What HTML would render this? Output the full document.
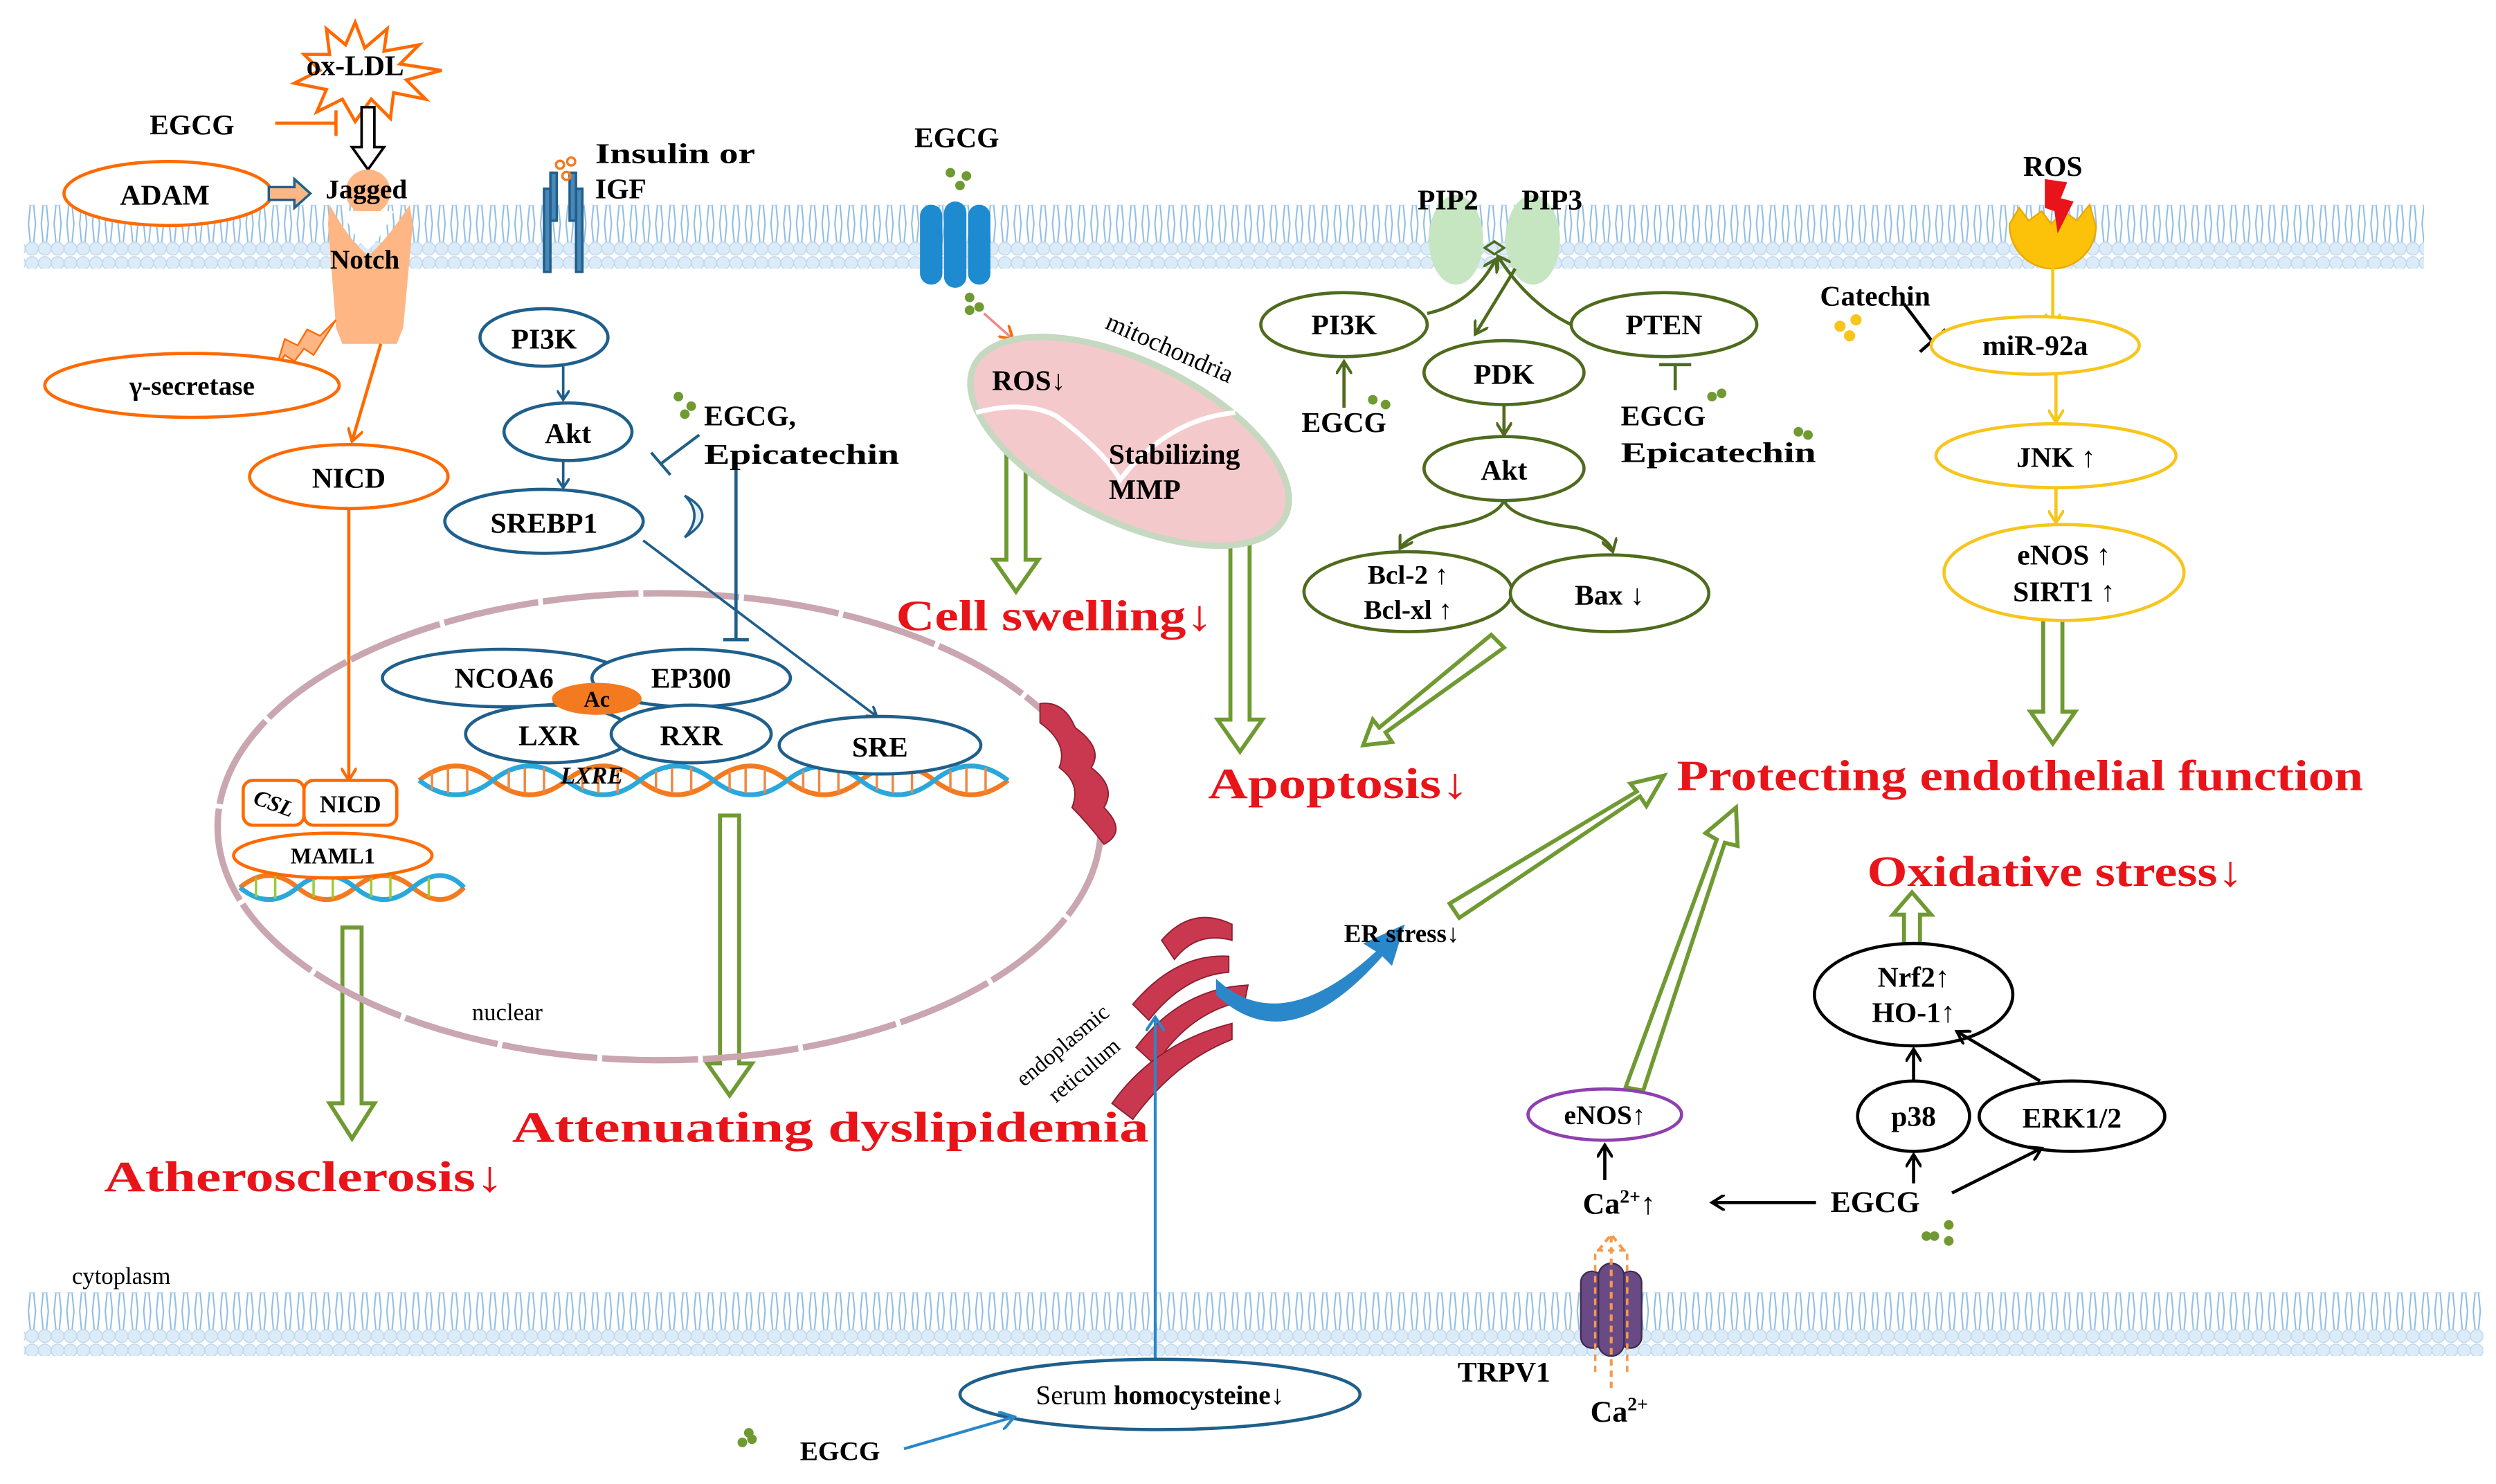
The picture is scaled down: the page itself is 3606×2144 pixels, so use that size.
<!DOCTYPE html>
<html><head><meta charset="utf-8"><style>
html,body{margin:0;padding:0;background:#fff}
svg{display:block}
text{font-family:"Liberation Serif",serif;font-weight:bold;fill:#000}
</style></head><body>
<svg width="3606" height="2144" viewBox="0 0 1560 928" preserveAspectRatio="none" xmlns="http://www.w3.org/2000/svg">
<defs>
<pattern id="mem" x="0" y="0" width="8" height="40" patternUnits="userSpaceOnUse">
<path d="M3 8 L1.8 20 L3 32 M5 8 L6.2 20 L5 32" stroke="#8fbde3" stroke-width="0.9" fill="none"/>
<circle cx="4" cy="4.5" r="4" fill="#dcebf8" stroke="#bcd6ee" stroke-width="0.6"/>
<circle cx="4" cy="35.5" r="4" fill="#dcebf8" stroke="#bcd6ee" stroke-width="0.6"/>
</pattern>
<marker id="ab" markerWidth="8" markerHeight="8" refX="6" refY="4" orient="auto" markerUnits="userSpaceOnUse"><path d="M0,0 L6,4 L0,8" fill="none" stroke="#1f5f8b" stroke-width="1.6"/></marker>
<marker id="ao" markerWidth="10" markerHeight="10" refX="8" refY="5" orient="auto" markerUnits="userSpaceOnUse"><path d="M0,0 L8,5 L0,10" fill="none" stroke="#ff6a00" stroke-width="1.8"/></marker>
<marker id="ag" markerWidth="10" markerHeight="10" refX="8" refY="5" orient="auto" markerUnits="userSpaceOnUse"><path d="M0,0 L8,5 L0,10" fill="none" stroke="#4f6b1e" stroke-width="1.8"/></marker>
<marker id="ay" markerWidth="10" markerHeight="10" refX="8" refY="5" orient="auto" markerUnits="userSpaceOnUse"><path d="M0,0 L8,5 L0,10" fill="none" stroke="#f7c51b" stroke-width="1.8"/></marker>
<marker id="ak" markerWidth="10" markerHeight="10" refX="8" refY="5" orient="auto" markerUnits="userSpaceOnUse"><path d="M0,0 L8,5 L0,10" fill="none" stroke="#000" stroke-width="1.8"/></marker>
<marker id="ab2" markerWidth="12" markerHeight="12" refX="9" refY="6" orient="auto" markerUnits="userSpaceOnUse"><path d="M0,0 L9,6 L0,12" fill="none" stroke="#2a87c9" stroke-width="1.8"/></marker>
</defs>

<rect x="15" y="128" width="1500" height="40" fill="url(#mem)"/>
<rect x="15" y="808" width="1537" height="40" fill="url(#mem)"/>

<polygon points="214,580 226,580 226,690 234,690 220,712 206,690 214,690" fill="#fff" stroke="#6f9a32" stroke-width="2.5"/>
<polygon points="450,510 462,510 462,665 470,665 456,685 442,665 450,665" fill="#fff" stroke="#6f9a32" stroke-width="2.5"/>
<polygon points="629,255 641,255 641,350 649,350 635,370 621,350 629,350" fill="#fff" stroke="#6f9a32" stroke-width="2.5"/>
<polygon points="769,300 781,300 781,450 789,450 775,470 761,450 769,450" fill="#fff" stroke="#6f9a32" stroke-width="2.5"/>
<polygon points="1277,385 1289,385 1289,445 1297,445 1283,465 1269,445 1277,445" fill="#fff" stroke="#6f9a32" stroke-width="2.5"/>
<polygon points="1190,592 1200,592 1200,572 1207,572 1195,558 1183,572 1190,572" fill="#fff" stroke="#6f9a32" stroke-width="2.5"/>
<polygon points="932,397 940,405 866,458 870,464 852,466 858,450 862,455" fill="#fff" stroke="#6f9a32" stroke-width="2.5"/>
<polygon points="906,565 912,574 1025,498 1029,504 1040,485 1019,490 1023,495" fill="#fff" stroke="#6f9a32" stroke-width="2.5"/>
<polygon points="1016,680 1027,682 1078,527 1086,529 1085,505 1066,521 1073,525" fill="#fff" stroke="#6f9a32" stroke-width="2.5"/>

<polygon points="222,14 228,30 242,18 240,32 262,28 250,40 276,44 254,50 266,62 246,58 244,74 232,62 222,76 214,62 198,70 204,56 184,52 200,44 190,34 206,34 204,18 216,28" fill="#fff" stroke="#ff6a00" stroke-width="2"/>
<text x="222" y="47" font-size="18" text-anchor="middle">ox-LDL</text>
<text x="120" y="84" font-size="18" text-anchor="middle">EGCG</text>
<path d="M172 77 L210 77 M210 69 L210 85" stroke="#ff6a00" stroke-width="2"/>
<polygon points="226,67 234,67 234,92 240,92 230,106 220,92 226,92" fill="#fff" stroke="#000" stroke-width="1.6"/>
<circle cx="230" cy="120" r="14" fill="#fdb684"/>
<path d="M206 128 Q218 150 230 160 Q242 150 256 128 L258 140 L252 205 L248 215 L214 215 L210 205 L205 140 Z" fill="#fdb684"/>
<path d="M214 132 Q222 150 230 156 Q238 150 246 132" fill="#fff"/>
<ellipse cx="105" cy="121" rx="65" ry="20" fill="#fff" stroke="#ff6a00" stroke-width="2"/>
<text x="103" y="128" font-size="18" text-anchor="middle">ADAM</text>
<polygon points="168,117 184,117 184,112 194,121 184,130 184,125 168,125" fill="#fdb684" stroke="#1f5f8b" stroke-width="1.5"/>
<text x="229" y="124" font-size="17" text-anchor="middle">Jagged</text>
<text x="228" y="168" font-size="17" text-anchor="middle">Notch</text>
<polygon points="172,232 178,212 186,216 192,206 200,210 210,200 196,222 190,218 184,226 178,222" fill="#fdb684" stroke="#ff6a00" stroke-width="1"/>
<ellipse cx="120" cy="241" rx="92" ry="20" fill="#fff" stroke="#ff6a00" stroke-width="2"/>
<text x="120" y="247" font-size="17" text-anchor="middle">γ-secretase</text>
<path d="M238 215 L220 276" stroke="#ff6a00" stroke-width="2" marker-end="url(#ao)"/>
<ellipse cx="218" cy="298" rx="62" ry="20" fill="#fff" stroke="#ff6a00" stroke-width="2"/>
<text x="218" y="305" font-size="18" text-anchor="middle">NICD</text>
<path d="M218 318 L218 488" stroke="#ff6a00" stroke-width="2" marker-end="url(#ao)"/>

<ellipse cx="412" cy="517" rx="276" ry="146" fill="none" stroke="#c9a6b0" stroke-width="4" stroke-dasharray="60 3"/>
<text x="295" y="638" font-size="15" style="font-weight:normal">nuclear</text>
<text x="45" y="803" font-size="15" style="font-weight:normal">cytoplasm</text>

<g fill="none" stroke-width="3">
<path d="M262 488 Q285 470 308 488 T354 488 T400 488 T446 488 T492 488 T538 488 T584 488 T630 488" stroke="#f47a20"/>
<path d="M262 488 Q285 506 308 488 T354 488 T400 488 T446 488 T492 488 T538 488 T584 488 T630 488" stroke="#2aa8dc"/>
<path d="M150 555 Q168 540 186 555 T222 555 T258 555 T290 555" stroke="#f47a20"/>
<path d="M150 555 Q168 570 186 555 T222 555 T258 555 T290 555" stroke="#2aa8dc"/>
</g>
<g stroke-width="1.5">
<path d="M270 482v12M280 480v16M292 480v16M318 482v12M328 480v16M340 480v16M364 482v12M374 480v16M386 480v16M410 482v12M420 480v16M432 480v16M456 482v12M466 480v16M478 480v16M502 482v12M512 480v16M524 480v16M548 482v12M558 480v16M570 480v16M594 482v12M604 480v16M616 480v16" stroke="#e84"/>
<path d="M160 549v12M172 548v14M196 549v12M208 548v14M232 549v12M244 548v14M268 549v12" stroke="#9c3"/>
</g>
<rect x="152" y="488" width="38" height="28" rx="6" fill="#fff" stroke="#ff6a00" stroke-width="2"/>
<text x="171" y="507" font-size="14" text-anchor="middle" font-style="italic" transform="rotate(20 171 503)">CSL</text>
<rect x="190" y="488" width="58" height="28" rx="6" fill="#fff" stroke="#ff6a00" stroke-width="2"/>
<text x="219" y="508" font-size="15" text-anchor="middle">NICD</text>
<ellipse cx="208" cy="535" rx="62" ry="14" fill="#fff" stroke="#ff6a00" stroke-width="2"/>
<text x="208" y="540" font-size="14" text-anchor="middle">MAML1</text>

<g stroke="#1f5f8b" stroke-width="1.5" fill="#4a86b8">
<rect x="340" y="118" width="4" height="52"/><rect x="344" y="108" width="4" height="30"/>
<rect x="360" y="118" width="4" height="52"/><rect x="356" y="108" width="4" height="30"/>
</g>
<circle cx="350" cy="103" r="2.5" fill="none" stroke="#f47a20" stroke-width="1.5"/>
<circle cx="357" cy="101" r="2.5" fill="none" stroke="#f47a20" stroke-width="1.5"/>
<circle cx="354" cy="110" r="2.5" fill="none" stroke="#f47a20" stroke-width="1.5"/>
<text x="372" y="102" font-size="18" textLength="100" lengthAdjust="spacingAndGlyphs">Insulin or</text>
<text x="372" y="124" font-size="18">IGF</text>
<g fill="#fff" stroke="#1f5f8b" stroke-width="2">
<ellipse cx="340" cy="211" rx="40" ry="18"/>
<ellipse cx="355" cy="270" rx="40" ry="18"/>
<ellipse cx="340" cy="326" rx="62" ry="20"/>
</g>
<text x="340" y="218" font-size="18" text-anchor="middle">PI3K</text>
<text x="355" y="277" font-size="18" text-anchor="middle">Akt</text>
<text x="340" y="333" font-size="18" text-anchor="middle">SREBP1</text>
<path d="M428 310 Q450 322 428 336 Q440 322 428 310Z" fill="#e6eef8" stroke="#1f5f8b" stroke-width="1.5"/>
<path d="M352 229 L352 250" stroke="#1f5f8b" stroke-width="1.6" marker-end="url(#ab)"/>
<path d="M352 288 L352 305" stroke="#1f5f8b" stroke-width="1.6" marker-end="url(#ab)"/>
<path d="M437 272 L413 290 M407 283 L419 297" stroke="#1f5f8b" stroke-width="1.8"/>
<path d="M460 290 L460 400 M452 400 L468 400" stroke="#1f5f8b" stroke-width="2"/>
<path d="M402 338 L548 448" stroke="#1f5f8b" stroke-width="1.6" marker-end="url(#ab)"/>
<g fill="#6f9a32"><circle cx="424" cy="248" r="3"/><circle cx="432" cy="254" r="3"/><circle cx="428" cy="259" r="3"/></g>
<text x="440" y="266" font-size="18">EGCG,</text>
<text x="440" y="290" font-size="18" textLength="122" lengthAdjust="spacingAndGlyphs">Epicatechin</text>

<g fill="#fff" stroke="#1f5f8b" stroke-width="2">
<ellipse cx="315" cy="424" rx="76" ry="18"/>
<ellipse cx="432" cy="424" rx="62" ry="18"/>
<ellipse cx="343" cy="459" rx="52" ry="18"/>
<ellipse cx="432" cy="459" rx="50" ry="18"/>
<ellipse cx="550" cy="466" rx="63" ry="18"/>
</g>
<ellipse cx="373" cy="437" rx="28" ry="10" fill="#f47a20"/>
<text x="315" y="430" font-size="18" text-anchor="middle">NCOA6</text>
<text x="432" y="430" font-size="18" text-anchor="middle">EP300</text>
<text x="373" y="442" font-size="14" text-anchor="middle">Ac</text>
<text x="343" y="466" font-size="18" text-anchor="middle">LXR</text>
<text x="432" y="466" font-size="18" text-anchor="middle">RXR</text>
<text x="550" y="473" font-size="18" text-anchor="middle">SRE</text>
<text x="370" y="490" font-size="15" text-anchor="middle" font-style="italic">LXRE</text>

<text x="65" y="745" font-size="27" textLength="250" lengthAdjust="spacingAndGlyphs" style="fill:#e8141a">Atherosclerosis↓</text>
<text x="320" y="714" font-size="27" textLength="398" lengthAdjust="spacingAndGlyphs" style="fill:#e8141a">Attenuating  dyslipidemia</text>

<g fill="#c9384f" stroke="#8a1f30" stroke-width="0.8">
<path d="M650 440 Q665 438 672 455 Q690 468 682 480 Q698 492 690 505 Q705 520 690 528 Q680 515 670 505 Q676 490 662 480 Q668 465 650 452Z"/>
<path d="M726 588 Q745 566 770 578 L770 588 Q748 582 734 600Z"/>
<path d="M708 628 Q735 596 768 598 L768 608 Q740 610 718 638Z"/>
<path d="M710 655 Q738 618 780 616 L778 626 Q744 632 722 666Z"/>
<path d="M695 690 Q722 652 770 640 L770 650 Q734 664 708 700Z"/>
</g>
<text x="640" y="680" font-size="14" style="font-weight:normal" transform="rotate(-40 640 680)">endoplasmic</text>
<text x="660" y="690" font-size="14" style="font-weight:normal" transform="rotate(-40 660 690)">reticulum</text>
<path d="M760 612 Q800 650 860 595 L852 590 L878 578 L870 604 L864 598 Q805 665 760 622Z" fill="#2a87c9"/>
<text x="840" y="589" font-size="16">ER stress↓</text>
<path d="M722 850 L722 636" stroke="#2a87c9" stroke-width="1.8" marker-end="url(#ab2)"/>
<ellipse cx="725" cy="872" rx="125" ry="22" fill="#fff" stroke="#1f5f8b" stroke-width="2"/>
<text x="725" y="878" font-size="17" text-anchor="middle" style="font-weight:normal">Serum <tspan font-weight="bold">homocysteine</tspan>↓</text>
<text x="525" y="913" font-size="17" text-anchor="middle">EGCG</text>
<path d="M565 906 L634 886" stroke="#2a87c9" stroke-width="1.8" marker-end="url(#ab2)"/>
<g fill="#6f9a32"><circle cx="464" cy="902" r="3"/><circle cx="470" cy="900" r="3"/><circle cx="468" cy="896" r="3"/></g>

<text x="598" y="92" font-size="18" text-anchor="middle">EGCG</text>
<g fill="#6f9a32"><circle cx="594" cy="108" r="3"/><circle cx="604" cy="110" r="3"/><circle cx="600" cy="116" r="3"/><circle cx="606" cy="186" r="3"/><circle cx="612" cy="192" r="3"/><circle cx="606" cy="194" r="3"/></g>
<g fill="#1e8bd0"><rect x="575" y="128" width="14" height="50" rx="7"/><rect x="590" y="126" width="14" height="54" rx="7"/><rect x="605" y="128" width="14" height="50" rx="7"/></g>
<path d="M615 196 L633 212" stroke="#e88" stroke-width="1.5" marker-end="url(#ao)"/>
<ellipse cx="706" cy="276" rx="108" ry="50" transform="rotate(26 706 276)" fill="#f4c9cb" stroke="#c5d8c0" stroke-width="4"/>
<path d="M610 258 Q640 250 660 260 Q690 282 700 300 Q730 262 772 258" fill="none" stroke="#fff" stroke-width="3"/>
<text x="690" y="205" font-size="16" style="font-weight:normal" transform="rotate(24 690 205)">mitochondria</text>
<text x="620" y="244" font-size="18">ROS↓</text>
<text x="693" y="290" font-size="18">Stabilizing</text>
<text x="693" y="312" font-size="18">MMP</text>
<text x="560" y="394" font-size="27" textLength="198" lengthAdjust="spacingAndGlyphs" style="fill:#e8141a">Cell swelling↓</text>
<text x="755" y="499" font-size="27" textLength="163" lengthAdjust="spacingAndGlyphs" style="fill:#e8141a">Apoptosis↓</text>

<ellipse cx="910" cy="150" rx="17" ry="28" fill="#c6e6c2"/>
<ellipse cx="958" cy="150" rx="17" ry="28" fill="#c6e6c2"/>
<text x="905" y="131" font-size="18" text-anchor="middle">PIP2</text>
<text x="970" y="131" font-size="18" text-anchor="middle">PIP3</text>
<path d="M928 155 L934 151 L940 155 L934 159Z" fill="none" stroke="#4f6b1e" stroke-width="1.5"/>
<g fill="#fff" stroke="#4f6b1e" stroke-width="2">
<ellipse cx="840" cy="203" rx="52" ry="20"/>
<ellipse cx="1040" cy="203" rx="58" ry="20"/>
<ellipse cx="940" cy="233" rx="50" ry="20"/>
<ellipse cx="940" cy="293" rx="50" ry="20"/>
<ellipse cx="880" cy="370" rx="65" ry="25"/>
<ellipse cx="1006" cy="371" rx="62" ry="24"/>
</g>
<text x="840" y="209" font-size="18" text-anchor="middle">PI3K</text>
<text x="1040" y="209" font-size="18" text-anchor="middle">PTEN</text>
<text x="940" y="240" font-size="18" text-anchor="middle">PDK</text>
<text x="940" y="300" font-size="18" text-anchor="middle">Akt</text>
<text x="880" y="365" font-size="17" text-anchor="middle">Bcl-2 ↑</text>
<text x="880" y="387" font-size="17" text-anchor="middle">Bcl-xl ↑</text>
<text x="1006" y="378" font-size="18" text-anchor="middle">Bax ↓</text>
<g fill="none" stroke="#4f6b1e" stroke-width="2">
<path d="M892 196 Q920 190 935 162" marker-end="url(#ag)"/>
<path d="M982 203 Q955 190 936 160" marker-end="url(#ag)"/>
<path d="M947 168 L922 209" marker-end="url(#ag)"/>
<path d="M940 253 L940 272" marker-end="url(#ag)"/>
<path d="M940 313 Q935 325 900 330 Q880 335 875 343" marker-end="url(#ag)"/>
<path d="M940 313 Q945 325 985 330 Q1005 335 1008 345" marker-end="url(#ag)"/>
<path d="M840 255 L840 226" marker-end="url(#ag)"/>
<path d="M1047 244 L1047 228 M1037 228 L1057 228"/>
</g>
<text x="840" y="270" font-size="18" text-anchor="middle">EGCG</text>
<text x="1013" y="266" font-size="18">EGCG</text>
<text x="1013" y="289" font-size="18" textLength="122" lengthAdjust="spacingAndGlyphs">Epicatechin</text>
<g fill="#6f9a32"><circle cx="858" cy="250" r="3"/><circle cx="866" cy="253" r="3"/><circle cx="1070" cy="248" r="3"/><circle cx="1076" cy="246" r="3"/><circle cx="1124" cy="270" r="3"/><circle cx="1130" cy="272" r="3"/></g>

<text x="1283" y="110" font-size="18" text-anchor="middle">ROS</text>
<path d="M1256 140 L1262 130 L1268 138 L1276 132 L1282 140 L1290 132 L1298 138 L1306 128 L1310 142 A27 27 0 0 1 1256 140Z" fill="#fcc20a" stroke="#e9a800" stroke-width="1"/>
<polygon points="1278,112 1292,114 1288,124 1296,126 1286,146 1284,132 1278,130" fill="#e8141a"/>
<path d="M1283 166 L1283 204" stroke="#f7c51b" stroke-width="2" marker-end="url(#ay)"/>
<text x="1172" y="191" font-size="18" text-anchor="middle">Catechin</text>
<g fill="#f7c51b"><circle cx="1150" cy="204" r="3.5"/><circle cx="1160" cy="200" r="3.5"/><circle cx="1156" cy="210" r="3.5"/></g>
<path d="M1190 190 L1208 214 M1200 220 L1216 206" stroke="#000" stroke-width="2"/>
<g fill="#fff" stroke="#f7c51b" stroke-width="2">
<ellipse cx="1272" cy="216" rx="65" ry="18"/>
<ellipse cx="1285" cy="285" rx="75" ry="20"/>
<ellipse cx="1290" cy="358" rx="75" ry="30"/>
</g>
<text x="1272" y="222" font-size="18" text-anchor="middle">miR-92a</text>
<text x="1285" y="292" font-size="18" text-anchor="middle">JNK ↑</text>
<text x="1290" y="353" font-size="18" text-anchor="middle">eNOS ↑</text>
<text x="1290" y="376" font-size="18" text-anchor="middle">SIRT1 ↑</text>
<path d="M1285 234 L1285 264" stroke="#f7c51b" stroke-width="2" marker-end="url(#ay)"/>
<path d="M1285 305 L1285 327" stroke="#f7c51b" stroke-width="2" marker-end="url(#ay)"/>
<text x="1048" y="494" font-size="27" textLength="429" lengthAdjust="spacingAndGlyphs" style="fill:#e8141a">Protecting endothelial function</text>
<text x="1167" y="554" font-size="27" textLength="235" lengthAdjust="spacingAndGlyphs" style="fill:#e8141a">Oxidative stress↓</text>

<g fill="#fff" stroke="#000" stroke-width="2">
<ellipse cx="1196" cy="622" rx="62" ry="32"/>
<ellipse cx="1196" cy="698" rx="35" ry="22"/>
<ellipse cx="1295" cy="698" rx="58" ry="22"/>
</g>
<ellipse cx="1003" cy="697" rx="48" ry="16" fill="#fff" stroke="#8e3fb0" stroke-width="2"/>
<text x="1196" y="617" font-size="18" text-anchor="middle">Nrf2↑</text>
<text x="1196" y="639" font-size="18" text-anchor="middle">HO-1↑</text>
<text x="1196" y="704" font-size="18" text-anchor="middle">p38</text>
<text x="1295" y="705" font-size="18" text-anchor="middle">ERK1/2</text>
<text x="1003" y="703" font-size="17" text-anchor="middle">eNOS↑</text>
<text x="1172" y="758" font-size="19" text-anchor="middle">EGCG</text>
<text x="1012" y="759" font-size="19" text-anchor="middle">Ca<tspan font-size="12" dy="-7">2+</tspan><tspan dy="7">↑</tspan></text>
<g fill="none" stroke="#000" stroke-width="2">
<path d="M1196 676 L1196 656" marker-end="url(#ak)"/>
<path d="M1196 740 L1196 722" marker-end="url(#ak)"/>
<path d="M1275 676 L1223 645" marker-end="url(#ak)"/>
<path d="M1220 746 L1276 718" marker-end="url(#ak)"/>
<path d="M1135 752 L1070 752" marker-end="url(#ak)"/>
<path d="M1003 738 L1003 716" marker-end="url(#ak)"/>
</g>
<g fill="#6f9a32"><circle cx="1218" cy="766" r="3"/><circle cx="1204" cy="773" r="3"/><circle cx="1209" cy="773" r="3"/><circle cx="1218" cy="776" r="3"/></g>

<g fill="#6a4a85" stroke="#3d2a50" stroke-width="1">
<rect x="988" y="795" width="14" height="48" rx="7"/>
<rect x="1012" y="795" width="14" height="48" rx="7"/>
<rect x="999" y="790" width="16" height="58" rx="8"/>
</g>
<path d="M1007 868 L1007 772 M999 782 L1007 772 L1015 782" fill="none" stroke="#f49a4a" stroke-width="1.8" stroke-dasharray="4 3"/>
<path d="M997 858 L997 782 L1017 782 L1017 858" fill="none" stroke="#f49a4a" stroke-width="1.5" stroke-dasharray="4 3"/>
<text x="940" y="864" font-size="18" text-anchor="middle">TRPV1</text>
<text x="1012" y="889" font-size="19" text-anchor="middle">Ca<tspan font-size="12" dy="-7">2+</tspan></text>
</svg>
</body></html>
